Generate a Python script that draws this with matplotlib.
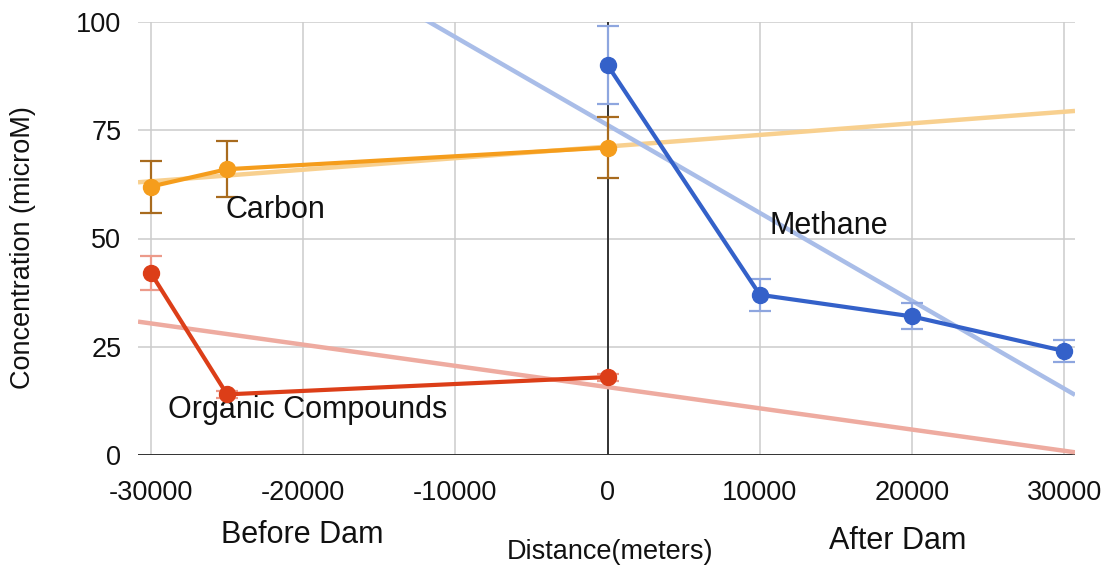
import numpy as np
import matplotlib
matplotlib.use("Agg")
import matplotlib.pyplot as plt

plt.rcParams.update({"font.family": ["Liberation Sans", "DejaVu Sans"],
                     "axes.unicode_minus": False})

# data
carbon_x = [-30000, -25000, 0]
carbon_y = [62, 66, 71]
carbon_err = [6, 6.5, 7]

organic_x = [-30000, -25000, 0]
organic_y = [42, 14, 18]
organic_err = [4, 0.8, 0.8]

methane_x = [0, 10000, 20000, 30000]
methane_y = [90, 37, 32, 24]
methane_err = [9, 3.7, 3, 2.5]

xticks = [-30000, -20000, -10000, 0, 10000, 20000, 30000]
yticks = [0, 25, 50, 75, 100]

C = {"carbon": "#f59d1c", "carbon_err": "#a86b1e", "carbon_tr": "#f8d08f",
     "org": "#dc3e18", "org_err": "#ec9a8a", "org_tr": "#eeaba0",
     "meth": "#3461c9", "meth_err": "#8ea6df", "meth_tr": "#a9bde8"}
TXT = "#111111"

fig = plt.figure(figsize=(11.04, 5.71), dpi=100)
ax = fig.add_axes([138 / 1104, 116 / 571, (1075 - 138) / 1104, (455 - 22) / 571])
xlo, xhi = -30850, 30700
ax.set_xlim(xlo, xhi); ax.set_ylim(0, 100)

# trendlines (least squares through the points)
xx = np.array([xlo, xhi])
for xs, ys, col in [(carbon_x, carbon_y, C["carbon_tr"]), (organic_x, organic_y, C["org_tr"]),
                    (methane_x, methane_y, C["meth_tr"])]:
    k, b = np.polyfit(xs, ys, 1)
    ax.plot(xx, k * xx + b, color=col, lw=3.2, zorder=2, solid_capstyle="butt")

for xs, ys, es, col, ecol in [(carbon_x, carbon_y, carbon_err, C["carbon"], C["carbon_err"]),
                              (organic_x, organic_y, organic_err, C["org"], C["org_err"]),
                              (methane_x, methane_y, methane_err, C["meth"], C["meth_err"])]:
    ax.errorbar(xs, ys, yerr=es, fmt="none", ecolor=ecol, elinewidth=1.6, capsize=8,
                capthick=1.6, zorder=3)
    ax.plot(xs, ys, color=col, lw=3, marker="o", ms=11.5, zorder=4)

ax.set_xticks(xticks); ax.set_yticks(yticks)
ax.grid(True, color="#cccccc", lw=1.1)
ax.set_axisbelow(True)
ax.axvline(0, color="#333333", lw=1.4, zorder=1.5)
ax.axhline(0, color="#333333", lw=1.4, zorder=1.5)
for s in ax.spines.values():
    s.set_visible(False)
ax.tick_params(length=0, labelsize=19.5, colors=TXT)
ax.tick_params(axis="x", pad=18)
ax.tick_params(axis="y", pad=12)

ax.text(-25100, 56.5, "Carbon", fontsize=22, va="center", ha="left", color=TXT)
ax.text(10600, 53, "Methane", fontsize=22, va="center", ha="left", color=TXT)
ax.text(-28900, 10.4, "Organic Compounds", fontsize=22, va="center", ha="left", color=TXT)

fig.text(302 / 1104, 1 - 535 / 571, "Before Dam", fontsize=22, ha="center", va="center", color=TXT)
fig.text(898 / 1104, 1 - 541 / 571, "After Dam", fontsize=22, ha="center", va="center", color=TXT)
fig.text(610 / 1104, 1 - 552 / 571, "Distance(meters)", fontsize=19.5, ha="center", va="center", color=TXT)
fig.text(23 / 1104, 1 - 248 / 571, "Concentration (microM)", fontsize=19.5, rotation=90,
         ha="center", va="center", color=TXT)

fig.savefig("out.png", dpi=100)
